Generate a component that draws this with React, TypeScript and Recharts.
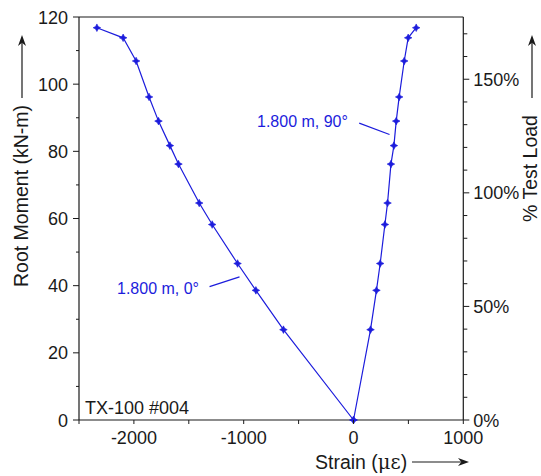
import React from "react";
import { ScatterChart, Scatter, XAxis, YAxis, ReferenceLine } from "recharts";

// root moment at each load step (kN-m), shared by both gauges
const moment = [0, 26.9, 38.6, 46.6, 58.2, 64.6, 76.2, 81.7, 89.0, 96.2, 106.9, 113.8, 116.8];
// strain readings (microstrain)
const strain0 = [0, -638, -889, -1056, -1287, -1405, -1594, -1672, -1776, -1862, -1980, -2098, -2337];
const strain90 = [0, 155, 209, 243, 286, 310, 341, 368, 389, 416, 462, 498, 571];

const xTicks = [-2500, -2000, -1500, -1000, -500, 0, 500, 1000];
const yTicks = [0, 10, 20, 30, 40, 50, 60, 70, 80, 90, 100, 110, 120];
const pctTicks = [0, 10, 20, 30, 40, 50, 60, 70, 80, 90, 100, 110, 120, 130, 140, 150, 160, 170];

const gauge0 = strain0.map((s, i) => ({ strain: s, moment: moment[i] }));
const gauge90 = strain90.map((s, i) => ({ strain: s, moment: moment[i] }));

const BLUE = "#1c1cdc";
const INK = "#1a1a1a";
const FONT = "'Liberation Sans', Arial, sans-serif";
const TICK_FS = 18;
const TITLE_FS = 19.5;

const Marker = (props: any) => {
  const { cx, cy } = props;
  const r = 3.8;
  const k = 1.3;
  return (
    <polygon
      points={`${cx},${cy - r} ${cx + k},${cy - k} ${cx + r},${cy} ${cx + k},${cy + k} ${cx},${cy + r} ${cx - k},${cy + k} ${cx - r},${cy} ${cx - k},${cy - k}`}
      fill={BLUE}
      stroke={BLUE}
      strokeWidth={0.6}
    />
  );
};

const NoMarker = () => null;

const LeftTick = ({ x, y, payload }: any) => {
  const major = payload.value % 20 === 0;
  return (
    <g>
      <line x1={x} x2={x - (major ? 6 : 3)} y1={y} y2={y} stroke={INK} />
      {major && (
        <text x={x - 11} y={y + 6.5} textAnchor="end" fontSize={TICK_FS} fontFamily={FONT} fill={INK}>
          {payload.value}
        </text>
      )}
    </g>
  );
};

const RightTick = ({ x, y, payload }: any) => {
  const major = payload.value % 50 === 0;
  return (
    <g>
      <line x1={x} x2={x + (major ? 6 : 4)} y1={y} y2={y} stroke={INK} />
      {major && (
        <text x={x + 10} y={y + 6.5} textAnchor="start" fontSize={TICK_FS} fontFamily={FONT} fill={INK}>
          {payload.value}%
        </text>
      )}
    </g>
  );
};

const BottomTick = ({ x, y, payload }: any) => {
  const major = payload.value % 1000 === 0;
  return (
    <g>
      <line x1={x} x2={x} y1={y} y2={y + 4} stroke={INK} />
      {major && (
        <text x={x} y={y + 24} textAnchor="middle" fontSize={TICK_FS} fontFamily={FONT} fill={INK}>
          {payload.value}
        </text>
      )}
    </g>
  );
};

const Arrow = ({ x1, y1, x2, y2 }: { x1: number; y1: number; x2: number; y2: number }) => {
  const a = Math.atan2(y2 - y1, x2 - x1);
  const L = 11;
  const W = 4;
  const bx = x2 - L * Math.cos(a);
  const by = y2 - L * Math.sin(a);
  const nx = -Math.sin(a) * W;
  const ny = Math.cos(a) * W;
  const mx = x2 - L * 0.7 * Math.cos(a);
  const my = y2 - L * 0.7 * Math.sin(a);
  return (
    <g>
      <line x1={x1} y1={y1} x2={mx} y2={my} stroke={INK} strokeWidth={1.2} />
      <path d={`M${x2},${y2} L${bx + nx},${by + ny} L${mx},${my} L${bx - nx},${by - ny} Z`} fill={INK} />
    </g>
  );
};

export default function App() {
  return (
    <div style={{ position: "fixed", left: 0, top: 0, width: 541, height: 476, background: "#fff" }}>
      <ScatterChart width={541} height={476} margin={{ top: 17, right: 0, bottom: 0, left: 0 }}>
        <XAxis
          type="number"
          dataKey="strain"
          domain={[-2500, 1000]}
          ticks={xTicks}
          interval={0}
          height={56}
          tickSize={0}
          tickMargin={0}
          tick={<BottomTick />}
          stroke={INK}
          strokeWidth={1.2}
        />
        <YAxis
          yAxisId="left"
          type="number"
          dataKey="moment"
          domain={[0, 120]}
          ticks={yTicks}
          interval={0}
          width={79}
          tickSize={0}
          tickMargin={0}
          tick={<LeftTick />}
          stroke={INK}
          strokeWidth={1.2}
        />
        <YAxis
          yAxisId="right"
          orientation="right"
          type="number"
          dataKey="moment"
          domain={[0, 177.4]}
          allowDataOverflow
          ticks={pctTicks}
          interval={0}
          width={77.7}
          tickSize={0}
          tickMargin={0}
          tick={<RightTick />}
          stroke={INK}
          strokeWidth={1.2}
        />
        <ReferenceLine yAxisId="left" y={120} stroke={INK} strokeWidth={1.2} />
        <ReferenceLine
          yAxisId="left"
          segment={[{ x: 52, y: 88.4 }, { x: 328, y: 85.0 }]}
          stroke={BLUE}
          strokeWidth={1.2}
        />
        <ReferenceLine
          yAxisId="left"
          segment={[{ x: -1311, y: 39.7 }, { x: -1038, y: 42.6 }]}
          stroke={BLUE}
          strokeWidth={1.2}
        />
        {/* invisible series so the % axis is drawn */}
        <Scatter yAxisId="right" data={gauge90} shape={<NoMarker />} isAnimationActive={false} />
        <Scatter
          yAxisId="left"
          data={gauge0}
          line={{ stroke: BLUE, strokeWidth: 1.2 }}
          lineType="joint"
          shape={<Marker />}
          isAnimationActive={false}
        />
        <Scatter
          yAxisId="left"
          data={gauge90}
          line={{ stroke: BLUE, strokeWidth: 1.2 }}
          lineType="joint"
          shape={<Marker />}
          isAnimationActive={false}
        />
      </ScatterChart>
      <svg
        width={541}
        height={476}
        style={{ position: "absolute", left: 0, top: 0, pointerEvents: "none" }}
        fontFamily={FONT}
      >
        <text x={28} y={287} fontSize={TITLE_FS} fill={INK} transform="rotate(-90 28 287)">
          Root Moment (kN-m)
        </text>
        <Arrow x1={22} y1={98} x2={22} y2={35} />
        <text x={537} y={222} fontSize={TITLE_FS} fill={INK} transform="rotate(-90 537 222)">
          % Test Load
        </text>
        <Arrow x1={532} y1={98} x2={532} y2={35} />
        <text x={315} y={469} fontSize={TITLE_FS} fill={INK}>
          Strain (<tspan fontFamily="'DejaVu Serif', 'Liberation Serif', serif">με</tspan>)
        </text>
        <Arrow x1={412} y1={462} x2={469} y2={462} />
        <text x={85} y={414} fontSize={18} fill={INK}>
          TX-100 #004
        </text>
        <text x={257} y={127} fontSize={16} fill={BLUE}>
          1.800 m, 90°
        </text>
        <text x={117} y={294} fontSize={16} fill={BLUE}>
          1.800 m, 0°
        </text>
      </svg>
    </div>
  );
}
